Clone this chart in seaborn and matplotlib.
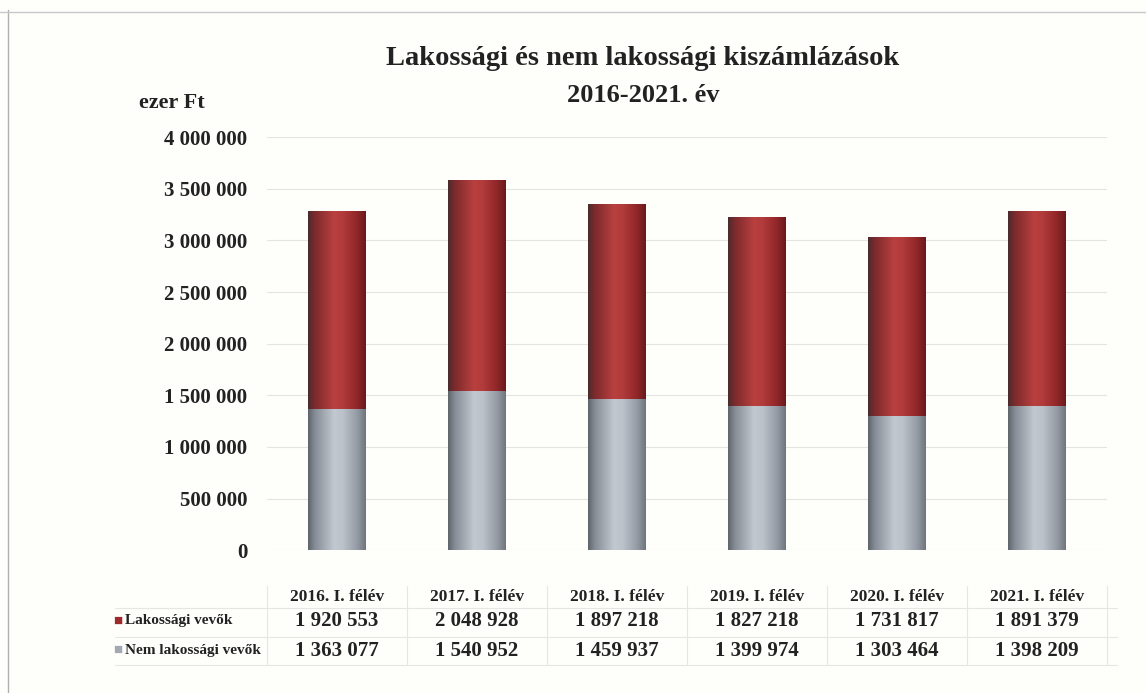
import numpy as np
import pandas as pd
import matplotlib
matplotlib.use("Agg")
import matplotlib.pyplot as plt
import seaborn as sns
from matplotlib.colors import LinearSegmentedColormap

# adatok
evek = ["2016. I. félév", "2017. I. félév", "2018. I. félév",
        "2019. I. félév", "2020. I. félév", "2021. I. félév"]
lakossagi = [1920553, 2048928, 1897218, 1827218, 1731817, 1891379]
nem_lakossagi = [1363077, 1540952, 1459937, 1399974, 1303464, 1398209]
y_ticks = [0, 500000, 1000000, 1500000, 2000000, 2500000, 3000000, 3500000, 4000000]

def fmt(v):
    return f"{v:,}".replace(",", " ")

sns.set_style("white")
plt.rcParams['font.family'] = ['Liberation Serif', 'DejaVu Serif']

df = pd.DataFrame({"ev": evek, "lak": lakossagi, "nem": nem_lakossagi})
df["osszes"] = df["lak"] + df["nem"]

hatter = "#fefefb"
fig = plt.figure(figsize=(11.46, 6.93), dpi=100, facecolor=hatter)
ax = fig.add_axes([0.233, 0.206, 0.733, 0.596])
ax.set_facecolor(hatter)

szurke = "#a3a9b2"
piros = "#9e2a2b"
sns.barplot(data=df, x="ev", y="osszes", color=piros, width=0.41, ax=ax,
            saturation=1, edgecolor="none")
sns.barplot(data=df, x="ev", y="nem", color=szurke, width=0.41, ax=ax,
            saturation=1, edgecolor="none")

# henger hatás
cm_red = LinearSegmentedColormap.from_list(
    "r", [(0, "#4a2c2e"), (0.12, "#7e2a2c"), (0.45, "#b8403f"), (0.6, "#b23b3b"), (0.85, "#8f2628"), (1, "#6a1a1c")])
cm_gray = LinearSegmentedColormap.from_list(
    "g", [(0, "#5f646b"), (0.12, "#878d96"), (0.45, "#c2c8d0"), (0.6, "#bcc2ca"), (0.85, "#959ba4"), (1, "#70757d")])
grad = np.linspace(0, 1, 256).reshape(1, -1)
n = len(evek)
for i, p in enumerate(ax.patches):
    x0, y0 = p.get_x(), p.get_y()
    w, h = p.get_width(), p.get_height()
    cmap = cm_red if i < n else cm_gray
    im = ax.imshow(grad, cmap=cmap, aspect="auto", extent=[x0, x0 + w, y0, y0 + h],
                   zorder=p.get_zorder() + 0.1)
    im.set_clip_path(p)

ax.set_xlim(-0.5, n - 0.5)
ax.set_ylim(0, 4000000)
ax.set_yticks(y_ticks)
ax.set_yticklabels([fmt(t) for t in y_ticks], fontsize=15, fontweight="bold", color="#222222")
ax.set_xticks([])
ax.set_xlabel("")
ax.set_ylabel("")
ax.yaxis.grid(True, color="#e4e4e0", linewidth=0.8)
ax.set_axisbelow(True)
for s in ax.spines.values():
    s.set_visible(False)
ax.tick_params(axis="y", length=0, pad=14)

fig.text(0.561, 0.915, "Lakossági és nem lakossági kiszámlázások", ha="center",
         va="center", fontsize=20.5, fontweight="bold", color="#222222")
fig.text(0.561, 0.862, "2016-2021. év", ha="center", va="center",
         fontsize=19, fontweight="bold", color="#222222")
fig.text(0.121, 0.851, "ezer Ft", ha="left", va="center", fontsize=16, fontweight="bold",
         color="#222222")

# adattábla
trans = matplotlib.transforms.blended_transform_factory(ax.transData, fig.transFigure)
y_fejlec, y_sor1, y_sor2 = 0.139, 0.104, 0.061
for i, ev in enumerate(evek):
    ax.text(i, y_fejlec, ev, transform=trans, ha="center", va="center",
            fontsize=12.5, fontweight="bold", clip_on=False, color="#222222")
    ax.text(i, y_sor1, fmt(lakossagi[i]), transform=trans, ha="center", va="center",
            fontsize=15, fontweight="bold", clip_on=False, color="#222222")
    ax.text(i, y_sor2, fmt(nem_lakossagi[i]), transform=trans, ha="center", va="center",
            fontsize=15, fontweight="bold", clip_on=False, color="#222222")

fig.text(0.103, y_sor1, "\u25a0", color=piros, ha="center", va="center", fontsize=11)
fig.text(0.103, y_sor2, "\u25a0", color=szurke, ha="center", va="center", fontsize=11)
fig.text(0.109, y_sor1, "Lakossági vevők", ha="left", va="center", fontsize=11,
         fontweight="bold", color="#222222")
fig.text(0.109, y_sor2, "Nem lakossági vevők", ha="left", va="center", fontsize=11,
         fontweight="bold", color="#222222")

vonal = dict(color="#e6e6e2", linewidth=0.8, transform=fig.transFigure)
for yy in [0.123, 0.081, 0.040]:
    fig.add_artist(plt.Line2D([0.10, 0.975], [yy, yy], **vonal))
for xx in np.arange(n + 1) - 0.5:
    xf = fig.transFigure.inverted().transform(ax.transData.transform((xx, 0)))[0]
    fig.add_artist(plt.Line2D([xf, xf], [0.040, 0.155], **vonal))

# keret
fig.add_artist(plt.Line2D([0.007, 0.007], [0.0, 0.985], color="#b0b0b0", linewidth=1,
                          transform=fig.transFigure))
fig.add_artist(plt.Line2D([0.0, 1.0], [0.982, 0.982], color="#c8c8c8", linewidth=1,
                          transform=fig.transFigure))

fig.savefig("out.png", dpi=100, facecolor=hatter)
